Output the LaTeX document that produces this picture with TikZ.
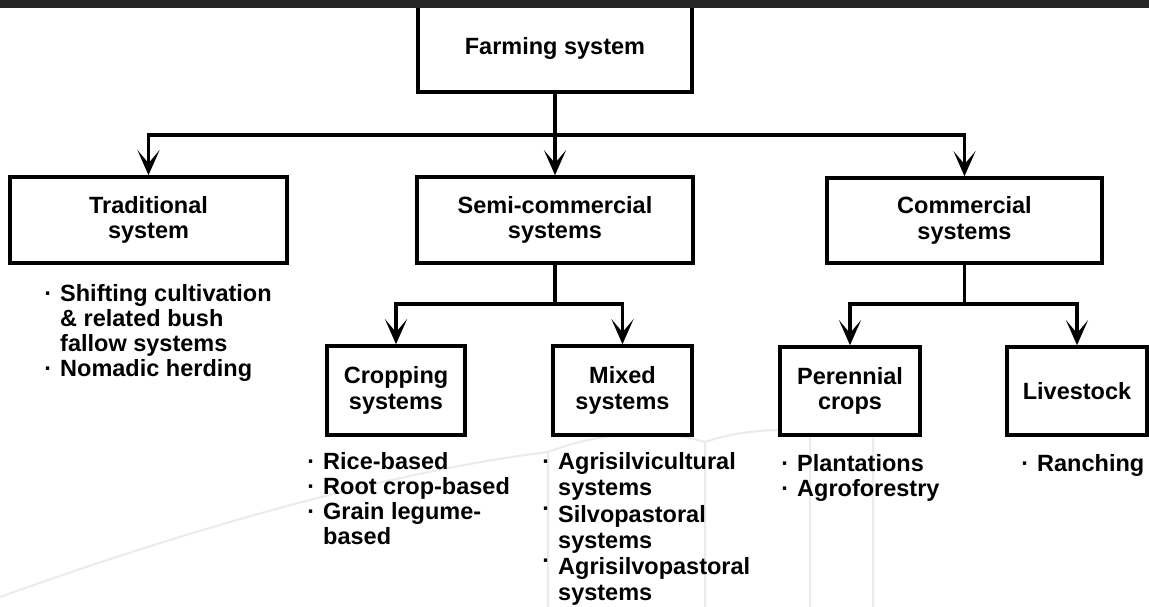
\documentclass[tikz,border=0pt]{standalone}
\usepackage{fontspec}
\setmainfont{Liberation Sans}
\usetikzlibrary{arrows.meta}
\newcommand{\bl}{\llap{\raisebox{0pt}{\textperiodcentered}\hspace{8pt}}}
\newcommand{\blup}{\llap{\raisebox{6pt}{\textperiodcentered}\hspace{8pt}}}
\tikzset{
  box/.style={draw=black, line width=3.6pt, fill=white, inner sep=0pt, align=center,
    font=\fontsize{23.5}{25.5}\selectfont\bfseries},
  conn/.style={draw=black, line width=3.4pt},
  arr/.style={conn, -{Stealth[length=25pt,width=22pt,inset=13pt]}},
  list/.style={anchor=north west, inner sep=0pt, align=left, font=\fontsize{23.5}{25}\selectfont\bfseries},
  wm/.style={draw=black!8, line width=2pt}
}
\begin{document}
\begin{tikzpicture}[x=1pt,y=-1pt]
\useasboundingbox (0,0) rectangle (1149,607);
\fill[white] (0,0) rectangle (1149,607);
% faint watermark
\draw[wm] (0,597) .. controls (200,525) and (400,470) .. (548,452) -- (548,607);
\draw[wm] (548,452) .. controls (600,432) and (660,428) .. (705,442) -- (705,607);
\draw[wm] (810,607) -- (810,432) .. controls (818,414) and (865,414) .. (873,432) -- (873,607);
\draw[wm] (705,442) .. controls (740,430) and (780,428) .. (810,432);
% boxes
\node[box, minimum width=274pt, minimum height=88pt] (farm) at (555,48) {\raisebox{-3pt}{Farming system}};
\node[box, minimum width=277pt, minimum height=86pt] (trad) at (148.5,220) {Traditional\\system};
\node[box, minimum width=276pt, minimum height=86pt] (semi) at (555,220) {Semi-commercial\\systems};
\node[box, minimum width=275pt, minimum height=85pt] (comm) at (964.5,220.5) {Commercial\\systems};
\node[box, minimum width=138pt, minimum height=89pt] (crop) at (396,390.5) {Cropping\\systems};
\node[box, minimum width=139pt, minimum height=89pt] (mixed) at (622.5,390.5) {Mixed\\systems};
\node[box, minimum width=140pt, minimum height=88pt] (peren) at (850,391) {Perennial\\crops};
\node[box, minimum width=140pt, minimum height=88pt] (live) at (1077,391) {Livestock};
% junctions
\coordinate (h1) at (555,135);
\coordinate (h2) at (555,304);
\coordinate (h3) at (964.5,304);
% connectors
\draw[conn] (farm.south) -- (h1);
\draw[arr] (h1) -| (trad.north);
\draw[arr] (h1) -- (semi.north);
\draw[arr] (h1) -| (comm.north);
\draw[conn] (semi.south) -- (h2);
\draw[arr] (h2) -| (crop.north);
\draw[arr] (h2) -| (mixed.north);
\draw[conn] (comm.south) -- (h3);
\draw[arr] (h3) -| (peren.north);
\draw[arr] (h3) -| (live.north);
% lists
\node[list] (ltrad) at (60,284.5) {\bl Shifting cultivation\\\&{} related bush\\fallow systems\\\bl Nomadic herding};
\node[list] (lcrop) at (323,452.5) {\bl Rice-based\\\bl Root crop-based\\\bl Grain legume-\\based};
\node[list, font=\fontsize{23.5}{26.2}\selectfont\bfseries] (lmixed) at (558,452.5) {\bl Agrisilvicultural\\systems\\\blup Silvopastoral\\systems\\\blup Agrisilvopastoral\\systems};
\node[list] (lperen) at (797,454.5) {\bl Plantations\\\bl Agroforestry};
\node[list] (llive) at (1037,454.5) {\bl Ranching};
% top dark band
\fill[black!85] (0,0) rectangle (1149,8);
\end{tikzpicture}
\end{document}
